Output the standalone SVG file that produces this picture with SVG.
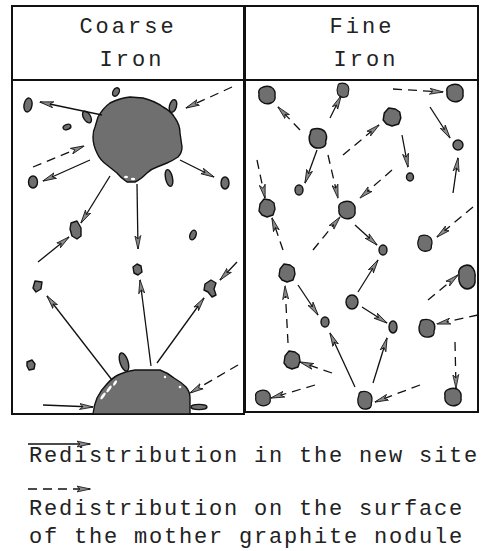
<svg xmlns="http://www.w3.org/2000/svg" width="482" height="551" viewBox="0 0 482 551">
  <style>
    .frame { fill: none; stroke: #111; stroke-width: 2; }
    .nod { fill: #6f6f6f; stroke: #111; stroke-width: 1.4; stroke-linejoin: round; }
    .spot { fill: #fff; stroke: none; }
    .solid { fill: none; stroke: #111; stroke-width: 1.3; marker-end: url(#ah); }
    .dash { fill: none; stroke: #111; stroke-width: 1.3; stroke-dasharray: 9 6; marker-end: url(#ah); }
    .title { font-family: "Liberation Mono", "DejaVu Sans Mono", monospace; font-size: 22px; letter-spacing: 3px; fill: #222; text-anchor: middle; }
    .legend { font-family: "Liberation Mono", "DejaVu Sans Mono", monospace; font-size: 22px; letter-spacing: 1.8px; fill: #222; }
  </style>
  <defs>
    <marker id="ah" viewBox="0 0 14 8" refX="13.5" refY="4" markerWidth="14" markerHeight="8" markerUnits="userSpaceOnUse" orient="auto">
      <path d="M0,1 L14,4 L0,7 L3.5,4 Z" fill="#8a8a8a" stroke="#111" stroke-width="0.8" stroke-linejoin="round"/>
    </marker>
    <!-- irregular nodule outlines, centred on the origin, about 16 x 18 -->
    <path id="blobA" d="M-6,-7 Q-1,-10 4,-8 Q9,-5 8,1 Q9,6 4,8 Q-1,10 -5,7 Q-9,4 -8,-1 Q-9,-5 -6,-7 Z"/>
    <path id="blobB" d="M-7,-4 L-3,-9 L3,-8 L7,-5 L8,1 L6,7 L0,9 L-5,7 L-8,3 Z"/>
    <path id="blobC" d="M-5,-8 Q2,-10 6,-6 Q9,-2 7,3 Q8,8 2,9 Q-4,10 -7,5 Q-9,0 -7,-4 Q-7,-7 -5,-8 Z"/>
  </defs>

  <rect width="482" height="551" fill="#fff"/>

  <!-- panel frames -->
  <g id="frames">
    <rect class="frame" x="12" y="6" width="232" height="408"/>
    <rect class="frame" x="245" y="6" width="233" height="406"/>
    <line class="frame" x1="12" y1="80" x2="244" y2="80"/>
    <line class="frame" x1="245" y1="80" x2="478" y2="80"/>
  </g>

  <!-- column headings -->
  <g id="heading-coarse">
    <text class="title" x="128" y="33">Coarse</text>
    <text class="title" x="132" y="66">Iron</text>
  </g>
  <g id="heading-fine">
    <text class="title" x="362" y="33">Fine</text>
    <text class="title" x="366" y="66">Iron</text>
  </g>

  <!-- coarse iron: mother nodules -->
  <g id="mother-top">
    <ellipse class="nod" cx="173" cy="106" rx="3.5" ry="6.5" transform="rotate(15 173 106)"/>
    <ellipse class="nod" cx="169" cy="178" rx="3.5" ry="8.5" transform="rotate(-12 169 178)"/>
    <path class="nod" d="M98,117 Q103,108 110,103 Q120,98 130,97 L143,98 Q155,101 163,107 Q171,111 175,118 Q180,125 180,133 L182,147 Q182,153 178,157 Q172,161 167,163 L157,167 Q151,169 147,173 Q140,180 135,182 L127,182 Q121,178 117,173 L107,165 Q100,160 97,153 Q93,145 93,137 Q93,131 95,127 Z"/>
    <ellipse class="spot" cx="126" cy="177" rx="2" ry="1.3"/>
    <ellipse class="spot" cx="133" cy="179" rx="2.2" ry="1.2"/>
  </g>
  <g id="mother-bottom">
    <ellipse class="nod" cx="124" cy="362" rx="4" ry="9.5" transform="rotate(-18 124 362)"/>
    <ellipse class="nod" cx="199" cy="407" rx="8" ry="2.6"/>
    <path class="nod" d="M93,414 Q94,405 97,398 Q101,390 106,385 Q112,378 118,375 Q126,371 135,370 L160,370 Q168,373 174,378 Q181,382 186,387 Q190,392 190,398 L190,414 Z"/>
    <ellipse class="spot" cx="103" cy="396" rx="1.4" ry="4" transform="rotate(35 103 396)"/>
    <ellipse class="spot" cx="109" cy="389" rx="1.4" ry="4" transform="rotate(35 109 389)"/>
    <ellipse class="spot" cx="115" cy="383" rx="1.3" ry="3" transform="rotate(35 115 383)"/>
    <circle class="spot" cx="165" cy="377" r="1.2"/>
    <circle class="spot" cx="180" cy="387" r="1.3"/>
  </g>

  <!-- coarse iron: small nodules -->
  <g id="c1"><ellipse class="nod" cx="28" cy="105" rx="4" ry="7" transform="rotate(10 28 105)"/></g>
  <g id="c2"><ellipse class="nod" cx="116" cy="92" rx="3" ry="4.5" transform="rotate(30 116 92)"/></g>
  <g id="c3"><ellipse class="nod" cx="87" cy="117" rx="3.5" ry="6.5" transform="rotate(-30 87 117)"/></g>
  <g id="c4"><ellipse class="nod" cx="67" cy="127" rx="4" ry="2.5" transform="rotate(-20 67 127)"/></g>
  <g id="c5"><ellipse class="nod" cx="33" cy="182" rx="4.5" ry="6"/></g>
  <g id="c6"><ellipse class="nod" cx="225" cy="183" rx="4" ry="6"/></g>
  <g id="c7"><path class="nod" d="M71,223 L77,221 L81,228 L81,236 L77,239 L72,236 L70,229 Z"/></g>
  <g id="c8"><ellipse class="nod" cx="193" cy="235" rx="3" ry="5" transform="rotate(20 193 235)"/></g>
  <g id="c9"><path class="nod" d="M133,267 L137,264 L141,266 L142,272 L138,275 L134,273 Z"/></g>
  <g id="c10"><path class="nod" d="M35,281 L42,282 L41,289 L36,292 L33,288 Z"/></g>
  <g id="c11"><path class="nod" d="M205,284 L211,280 L216,283 L214,289 L216,295 L212,297 L208,292 L204,290 Z"/></g>
  <g id="c12"><path class="nod" d="M27,362 L32,360 L35,364 L34,369 L29,370 L27,366 Z"/></g>

  <!-- fine iron: nodules -->
  <g id="f1"><use href="#blobA" class="nod" transform="translate(267 95)"/></g>
  <g id="f2"><use href="#blobC" class="nod" transform="translate(343 90) scale(0.75 0.8)"/></g>
  <g id="f3"><use href="#blobA" class="nod" transform="translate(455 93)"/></g>
  <g id="f4"><use href="#blobB" class="nod" transform="translate(392 117) scale(1.1 1)"/></g>
  <g id="f5"><use href="#blobC" class="nod" transform="translate(318 138) scale(1.1 1.1)"/></g>
  <g id="f6"><ellipse class="nod" cx="458" cy="145" rx="5" ry="5"/></g>
  <g id="f7"><ellipse class="nod" cx="299" cy="190" rx="4" ry="5"/></g>
  <g id="f8"><ellipse class="nod" cx="410" cy="177" rx="3.5" ry="4"/></g>
  <g id="f9"><use href="#blobB" class="nod" transform="translate(267 208)"/></g>
  <g id="f10"><use href="#blobA" class="nod" transform="translate(347 210)"/></g>
  <g id="f11"><ellipse class="nod" cx="383" cy="250" rx="4" ry="5"/></g>
  <g id="f12"><use href="#blobC" class="nod" transform="translate(425 243) scale(0.9 0.9)"/></g>
  <g id="f13"><use href="#blobB" class="nod" transform="translate(287 273)"/></g>
  <g id="f14"><ellipse class="nod" cx="352" cy="302" rx="6" ry="7"/></g>
  <g id="f15"><use href="#blobA" class="nod" transform="translate(467 277) scale(1 1.35)"/></g>
  <g id="f16"><ellipse class="nod" cx="325" cy="322" rx="4" ry="5"/></g>
  <g id="f17"><ellipse class="nod" cx="393" cy="327" rx="4" ry="6"/></g>
  <g id="f18"><use href="#blobC" class="nod" transform="translate(427 328)"/></g>
  <g id="f19"><use href="#blobB" class="nod" transform="translate(292 360)"/></g>
  <g id="f20"><use href="#blobA" class="nod" transform="translate(263 398) scale(0.9 0.9)"/></g>
  <g id="f21"><use href="#blobC" class="nod" transform="translate(365 400) scale(0.9 1)"/></g>
  <g id="f22"><use href="#blobA" class="nod" transform="translate(453 397)"/></g>

  <!-- redistribution arrows -->
  <g id="connectors">
    <!-- coarse iron -->
    <line class="solid" x1="102" y1="115" x2="40" y2="102"/>
    <line class="dash" x1="232" y1="87" x2="186" y2="108"/>
    <line class="dash" x1="33" y1="167" x2="84" y2="146"/>
    <line class="solid" x1="90" y1="160" x2="43" y2="181"/>
    <line class="solid" x1="180" y1="160" x2="214" y2="177"/>
    <line class="solid" x1="110" y1="176" x2="81" y2="223"/>
    <line class="solid" x1="137" y1="184" x2="138" y2="249"/>
    <line class="solid" x1="38" y1="262" x2="69" y2="237"/>
    <line class="solid" x1="237" y1="262" x2="220" y2="280"/>
    <line class="solid" x1="112" y1="380" x2="47" y2="296"/>
    <line class="solid" x1="151" y1="366" x2="140" y2="280"/>
    <line class="solid" x1="157" y1="363" x2="204" y2="298"/>
    <line class="dash" x1="238" y1="365" x2="190" y2="393"/>
    <line class="solid" x1="43" y1="405" x2="93" y2="407"/>
    <!-- fine iron -->
    <line class="dash" x1="300" y1="130" x2="278" y2="107"/>
    <line class="solid" x1="330" y1="118" x2="341" y2="96"/>
    <line class="dash" x1="393" y1="89" x2="443" y2="92"/>
    <line class="solid" x1="430" y1="107" x2="450" y2="138"/>
    <line class="dash" x1="343" y1="155" x2="379" y2="125"/>
    <line class="solid" x1="402" y1="135" x2="408" y2="167"/>
    <line class="solid" x1="317" y1="150" x2="305" y2="183"/>
    <line class="dash" x1="328" y1="155" x2="338" y2="198"/>
    <line class="solid" x1="453" y1="193" x2="458" y2="158"/>
    <line class="dash" x1="257" y1="160" x2="265" y2="198"/>
    <line class="dash" x1="392" y1="170" x2="360" y2="198"/>
    <line class="dash" x1="473" y1="207" x2="437" y2="237"/>
    <line class="dash" x1="283" y1="250" x2="272" y2="218"/>
    <line class="dash" x1="313" y1="250" x2="340" y2="217"/>
    <line class="solid" x1="355" y1="225" x2="377" y2="245"/>
    <line class="dash" x1="428" y1="300" x2="458" y2="275"/>
    <line class="solid" x1="298" y1="285" x2="318" y2="315"/>
    <line class="solid" x1="358" y1="292" x2="378" y2="260"/>
    <line class="solid" x1="362" y1="307" x2="387" y2="323"/>
    <line class="dash" x1="288" y1="343" x2="285" y2="286"/>
    <line class="dash" x1="478" y1="315" x2="437" y2="324"/>
    <line class="dash" x1="455" y1="342" x2="456" y2="388"/>
    <line class="dash" x1="332" y1="373" x2="300" y2="362"/>
    <line class="dash" x1="315" y1="385" x2="271" y2="398"/>
    <line class="solid" x1="355" y1="387" x2="330" y2="333"/>
    <line class="solid" x1="373" y1="383" x2="387" y2="338"/>
    <line class="dash" x1="420" y1="385" x2="375" y2="402"/>
    <!-- legend samples -->
    <line class="solid" x1="28" y1="444" x2="90" y2="444"/>
    <line class="dash" x1="28" y1="489" x2="90" y2="489"/>
  </g>

  <!-- legend -->
  <g id="legend">
    <text class="legend" x="29" y="462">Redistribution in the new site</text>
    <text class="legend" x="29" y="515">Redistribution on the surface</text>
    <text class="legend" x="29" y="543">of the mother graphite nodule</text>
  </g>
</svg>
